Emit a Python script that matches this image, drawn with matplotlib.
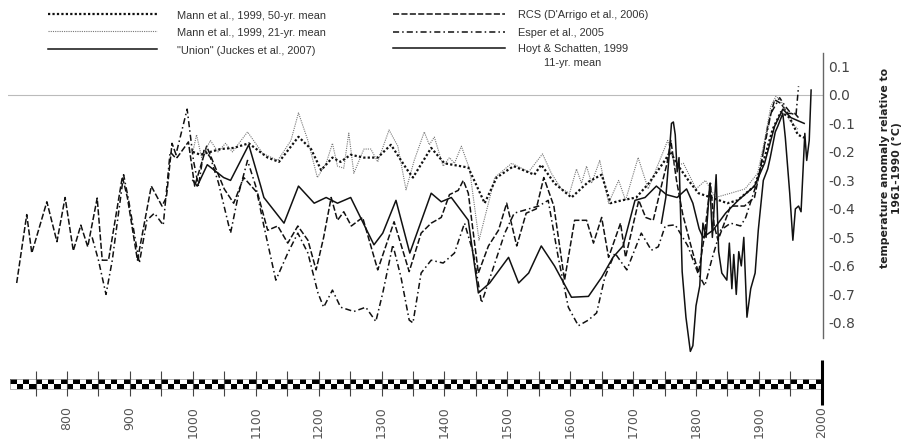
import numpy as np
import matplotlib.pyplot as plt
from matplotlib.lines import Line2D
from matplotlib.patches import Rectangle

# ---------------------------------------------------------------
# Temperature reconstructions (anomaly in degC rel. to 1961-1990)
# values
# ---------------------------------------------------------------

mann50_yr = [1000, 1012, 1044, 1065, 1089, 1119, 1137, 1168, 1188, 1204, 1222, 1235, 1251,
             1272, 1294, 1315, 1340, 1350, 1379, 1400, 1438, 1464, 1483, 1510, 1543, 1554,
             1575, 1602, 1629, 1650, 1664, 1682, 1705, 1725, 1749, 1759, 1772, 1788, 1804,
             1824, 1850, 1866, 1893, 1909, 1922, 1935, 1949, 1962, 1972]
mann50_t = [-0.20, -0.21, -0.19, -0.186, -0.17, -0.22, -0.235, -0.147, -0.19, -0.264, -0.22,
            -0.235, -0.21, -0.22, -0.22, -0.175, -0.26, -0.29, -0.186, -0.24, -0.255, -0.38,
            -0.29, -0.25, -0.28, -0.245, -0.31, -0.36, -0.305, -0.28, -0.38, -0.37, -0.36,
            -0.31, -0.235, -0.20, -0.25, -0.30, -0.345, -0.36, -0.38, -0.37, -0.32, -0.22,
            -0.12, -0.06, -0.08, -0.14, -0.15]

mann21_yr = [1000, 1006, 1014, 1028, 1040, 1052, 1063, 1087, 1111, 1135, 1156, 1168, 1183,
             1198, 1212, 1222, 1230, 1240, 1248, 1256, 1272, 1283, 1294, 1312, 1326, 1339,
             1352, 1368, 1376, 1384, 1398, 1408, 1416, 1427, 1440, 1455, 1470, 1480, 1507,
             1534, 1556, 1570, 1586, 1599, 1610, 1618, 1626, 1634, 1647, 1661, 1677, 1688,
             1708, 1724, 1755, 1767, 1780, 1800, 1815, 1831, 1855, 1878, 1898, 1909, 1919,
             1927, 1935, 1949, 1962]
mann21_t = [-0.20, -0.14, -0.22, -0.16, -0.20, -0.17, -0.20, -0.13, -0.205, -0.23, -0.16,
            -0.063, -0.16, -0.29, -0.24, -0.17, -0.25, -0.257, -0.134, -0.275, -0.19, -0.19,
            -0.235, -0.123, -0.18, -0.333, -0.23, -0.13, -0.175, -0.148, -0.25, -0.22, -0.24,
            -0.18, -0.26, -0.51, -0.38, -0.29, -0.24, -0.27, -0.207, -0.275, -0.33, -0.345,
            -0.26, -0.31, -0.25, -0.31, -0.23, -0.38, -0.30, -0.37, -0.22, -0.33, -0.16,
            -0.25, -0.24, -0.33, -0.30, -0.36, -0.345, -0.33, -0.275, -0.16, -0.04, -0.005,
            -0.02, -0.09, -0.12]

union_yr = [1000, 1007, 1023, 1049, 1060, 1089, 1108, 1113, 1145, 1168, 1193, 1212, 1230,
            1251, 1288, 1302, 1323, 1345, 1379, 1395, 1411, 1438, 1454, 1472, 1502, 1518,
            1534, 1554, 1575, 1602, 1629, 1650, 1668, 1684, 1703, 1719, 1737, 1753, 1770,
            1785, 1795, 1805, 1811, 1827, 1847, 1867, 1893, 1909, 1925, 1938, 1951, 1972]
union_t = [-0.30, -0.32, -0.245, -0.29, -0.30, -0.175, -0.32, -0.36, -0.45, -0.32, -0.38,
           -0.36, -0.38, -0.36, -0.526, -0.485, -0.37, -0.555, -0.345, -0.375, -0.36, -0.44,
           -0.695, -0.66, -0.57, -0.66, -0.625, -0.53, -0.60, -0.71, -0.707, -0.64, -0.57,
           -0.53, -0.37, -0.36, -0.32, -0.35, -0.36, -0.33, -0.38, -0.47, -0.50, -0.475,
           -0.415, -0.37, -0.32, -0.24, -0.11, -0.05, -0.08, -0.10]

rcs_yr = [720, 736, 744, 768, 784, 797, 810, 822, 833, 848, 856, 866, 888, 896, 912, 934,
          951, 958, 967, 975, 993, 1003, 1022, 1035, 1050, 1065, 1081, 1103, 1119, 1135,
          1151, 1167, 1183, 1196, 1208, 1220, 1230, 1240, 1252, 1270, 1294, 1320, 1344,
          1363, 1379, 1395, 1408, 1422, 1430, 1438, 1454, 1470, 1486, 1499, 1515, 1530,
          1546, 1558, 1574, 1591, 1607, 1626, 1637, 1650, 1661, 1680, 1688, 1709, 1720,
          1732, 1746, 1754, 1760, 1769, 1779, 1792, 1804, 1813, 1823, 1829, 1835, 1855,
          1877, 1893, 1903, 1914, 1925, 1935, 1946, 1957, 1963]
rcs_t = [-0.66, -0.42, -0.555, -0.375, -0.515, -0.36, -0.547, -0.457, -0.533, -0.362, -0.58,
         -0.58, -0.287, -0.36, -0.58, -0.32, -0.39, -0.36, -0.17, -0.22, -0.165, -0.32,
         -0.18, -0.25, -0.33, -0.38, -0.29, -0.345, -0.475, -0.46, -0.52, -0.46, -0.51,
         -0.614, -0.50, -0.36, -0.44, -0.41, -0.46, -0.43, -0.614, -0.445, -0.62, -0.485,
         -0.45, -0.43, -0.35, -0.335, -0.30, -0.345, -0.625, -0.53, -0.475, -0.38, -0.53,
         -0.415, -0.40, -0.29, -0.39, -0.65, -0.44, -0.44, -0.52, -0.43, -0.57, -0.45,
         -0.57, -0.37, -0.43, -0.44, -0.31, -0.24, -0.16, -0.30, -0.42, -0.53, -0.625,
         -0.50, -0.31, -0.46, -0.51, -0.39, -0.39, -0.36, -0.25, -0.11, -0.017, -0.03,
         -0.065, -0.065, -0.08]

esper_yr = [840, 850, 862, 872, 890, 898, 915, 927, 939, 953, 964, 972, 991, 1001, 1009,
            1018, 1028, 1041, 1060, 1073, 1087, 1100, 1113, 1132, 1151, 1167, 1183, 1199,
            1208, 1222, 1235, 1256, 1275, 1291, 1302, 1318, 1331, 1344, 1350, 1363, 1379,
            1398, 1416, 1432, 1446, 1459, 1475, 1496, 1511, 1534, 1550, 1565, 1581, 1597,
            1613, 1629, 1642, 1655, 1671, 1690, 1713, 1729, 1740, 1751, 1767, 1787, 1803,
            1814, 1826, 1839, 1855, 1871, 1879, 1898, 1909, 1919, 1933, 1942, 1951, 1959,
            1963]
esper_t = [-0.50, -0.58, -0.70, -0.58, -0.28, -0.37, -0.59, -0.44, -0.415, -0.457, -0.20,
           -0.22, -0.05, -0.23, -0.32, -0.19, -0.22, -0.31, -0.485, -0.345, -0.23, -0.32,
           -0.46, -0.65, -0.555, -0.485, -0.555, -0.695, -0.745, -0.685, -0.745, -0.76,
           -0.745, -0.795, -0.695, -0.526, -0.64, -0.79, -0.80, -0.625, -0.58, -0.59,
           -0.555, -0.45, -0.555, -0.73, -0.625, -0.485, -0.415, -0.40, -0.39, -0.37,
           -0.57, -0.745, -0.81, -0.79, -0.765, -0.64, -0.555, -0.614, -0.485, -0.545,
           -0.533, -0.46, -0.456, -0.53, -0.625, -0.67, -0.57, -0.475, -0.45, -0.46, -0.43,
           -0.30, -0.18, -0.065, -0.01, -0.04, -0.065, -0.07, 0.03]

hoyt_yr = [1745, 1752, 1757, 1761, 1764, 1767, 1770, 1773, 1778, 1784, 1791, 1795, 1800,
           1806, 1811, 1816, 1822, 1826, 1832, 1836, 1841, 1849, 1853, 1857, 1860, 1864,
           1868, 1872, 1876, 1881, 1887, 1894, 1899, 1907, 1914, 1918, 1926, 1930, 1938,
           1942, 1949, 1954, 1958, 1963, 1967, 1973, 1976, 1980, 1983]
hoyt_t = [-0.45, -0.36, -0.22, -0.10, -0.095, -0.14, -0.27, -0.22, -0.62, -0.78, -0.90,
          -0.88, -0.74, -0.67, -0.45, -0.50, -0.31, -0.50, -0.28, -0.55, -0.625, -0.65,
          -0.52, -0.68, -0.56, -0.70, -0.55, -0.60, -0.50, -0.78, -0.68, -0.625, -0.475,
          -0.30, -0.26, -0.22, -0.13, -0.11, -0.065, -0.15, -0.345, -0.51, -0.40, -0.39,
          -0.41, -0.135, -0.23, -0.16, 0.017]

ytick_vals = [0.1, 0.0, -0.1, -0.2, -0.3, -0.4, -0.5, -0.6, -0.7, -0.8]
ytick_labels = ['0.1', '0.0', '-0.1', '-0.2', '-0.3', '-0.4', '-0.5', '-0.6', '-0.7', '-0.8']
xtick_vals = [800, 900, 1000, 1100, 1200, 1300, 1400, 1500, 1600, 1700, 1800, 1900, 2000]

legend_left = ['Mann et al., 1999, 50-yr. mean', 'Mann et al., 1999, 21-yr. mean',
               '"Union" (Juckes et al., 2007)']
legend_right = ["RCS (D'Arrigo et al., 2006)", 'Esper et al., 2005', 'Hoyt & Schatten, 1999']

# line styles
st_mann50 = dict(color='#111111', lw=1.6, ls=(0, (1, 1)))
st_mann21 = dict(color='#777777', lw=0.8, ls=(0, (1, 1)))
st_union = dict(color='#111111', lw=1.1, ls='-')
st_rcs = dict(color='#111111', lw=1.1, ls=(0, (4, 1.5)))
st_esper = dict(color='#111111', lw=1.1, ls=(0, (4, 2, 1, 2)))
st_hoyt = dict(color='#111111', lw=1.1, ls='-')

W, H = 901, 440
fig = plt.figure(figsize=(W / 100, H / 100), dpi=100)
plt.rcParams['font.family'] = 'DejaVu Sans'

def fx(px):
    return px / W

def fy(py):
    return 1 - py / H

XL = (706.2, 2001.9)

#############################
# main panel
#############################
ax = fig.add_axes([fx(8), fy(338), (823 - 8) / W, (338 - 53) / H])
ax.set_xlim(*XL)
ax.set_ylim(-0.853, 0.147)
ax.axhline(0, color='#bbbbbb', lw=0.8, zorder=0)

ax.plot(rcs_yr, rcs_t, clip_on=False, **st_rcs)
ax.plot(esper_yr, esper_t, clip_on=False, **st_esper)
ax.plot(mann21_yr, mann21_t, clip_on=False, **st_mann21)
ax.plot(mann50_yr, mann50_t, clip_on=False, **st_mann50)
ax.plot(union_yr, union_t, clip_on=False, **st_union)
ax.plot(hoyt_yr, hoyt_t, clip_on=False, **st_hoyt)

for s in ['left', 'top', 'bottom']:
    ax.spines[s].set_visible(False)
ax.spines['right'].set_color('#666666')
ax.spines['right'].set_linewidth(1.0)
ax.set_xticks([])
ax.yaxis.tick_right()
ax.set_yticks(ytick_vals)
ax.set_yticklabels(ytick_labels)
ax.tick_params(axis='y', length=0, pad=4, labelsize=10, labelcolor='#444444')

fig.text(fx(891), fy(168), 'temperature anomaly relative to\n1961-1990 (°C)',
         rotation=90, ha='center', va='center', multialignment='center',
         fontsize=7.8, fontweight='bold', color='#222222', linespacing=1.2)

#############################
# checkerboard time axis
#############################
ax2 = fig.add_axes([fx(8), fy(405), (823 - 8) / W, 45 / H])
ax2.set_xlim(*XL)
ax2.set_ylim(0, 45)
for s in ax2.spines.values():
    s.set_visible(False)
ax2.set_yticks([])

for i, x0 in enumerate(range(710, 2000, 10)):
    y0 = 21 if i % 2 == 0 else 16
    ax2.add_patch(Rectangle((x0, y0), 10, 5, color='black', lw=0))
ax2.add_patch(Rectangle((710, 16), 1290, 10, fill=False, ec='#999999', lw=0.5))
ax2.vlines(range(750, 2001, 50), 9, 34, color='#444444', lw=0.8)
ax2.vlines(2000, 0, 45, color='black', lw=2.2, clip_on=False)

ax2.set_xticks(xtick_vals)
ax2.set_xticklabels([str(v) for v in xtick_vals], rotation=90)
ax2.tick_params(axis='x', length=0, pad=1, labelsize=9, labelcolor='#555555')

#############################
# legend (drawn by hand, as in the original)
#############################
left_styles = [st_mann50, st_mann21, st_union]
right_styles = [st_rcs, st_esper, st_hoyt]
rows_l = [14, 31, 49]
rows_r = [14, 32, 48]

for lab, st, yy in zip(legend_left, left_styles, rows_l):
    fig.add_artist(Line2D([fx(48), fx(157)], [fy(yy), fy(yy)], transform=fig.transFigure, **st))
    fig.text(fx(177), fy(yy + 2), lab, fontsize=7.9, family='Liberation Sans',
             color='#333333', va='center', ha='left')

for lab, st, yy in zip(legend_right, right_styles, rows_r):
    fig.add_artist(Line2D([fx(393), fx(505)], [fy(yy), fy(yy)], transform=fig.transFigure, **st))
    fig.text(fx(518), fy(yy + 1), lab, fontsize=7.9, family='Liberation Sans',
             color='#333333', va='center', ha='left')
fig.text(fx(573), fy(63), '11-yr. mean', fontsize=7.9, family='Liberation Sans',
         color='#333333', va='center', ha='center')

fig.savefig('out.png', dpi=100)
